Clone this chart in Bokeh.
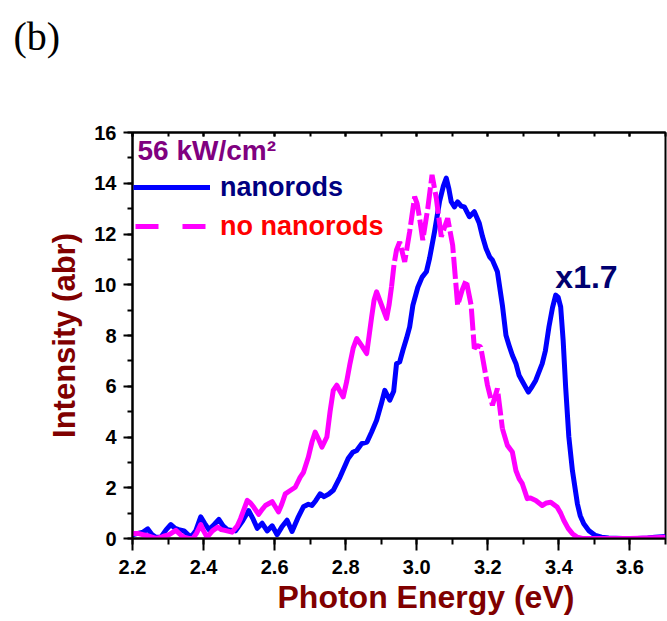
import numpy as np
from bokeh.plotting import figure
from bokeh.models import (Range1d, SingleIntervalTicker, LinearAxis, NumeralTickFormatter,
                          CustomJSTickFormatter, Label, Legend, LegendItem, Title)
from bokeh.embed import file_html
from bokeh.resources import INLINE

# ---------------- data ----------------
energy_nr = [2.200, 2.215, 2.230, 2.243, 2.255, 2.266, 2.280, 2.295, 2.308, 2.320, 2.330, 2.345,
             2.364, 2.378, 2.392, 2.403, 2.415, 2.430, 2.443, 2.455, 2.467, 2.490, 2.510, 2.527,
             2.540, 2.551, 2.565, 2.579, 2.593, 2.607, 2.620, 2.635, 2.649, 2.665, 2.681, 2.695,
             2.705, 2.716, 2.728, 2.739, 2.752, 2.765, 2.784, 2.807, 2.820, 2.831, 2.845, 2.860,
             2.873, 2.887, 2.900, 2.910, 2.924, 2.935, 2.943, 2.952, 2.961, 2.971, 2.980, 2.989,
             3.003, 3.015, 3.027, 3.036, 3.050, 3.064, 3.075, 3.083, 3.090, 3.097, 3.106, 3.115,
             3.125, 3.134, 3.148, 3.162, 3.176, 3.185, 3.195, 3.205, 3.213, 3.227, 3.241, 3.251,
             3.260, 3.269, 3.279, 3.288, 3.297, 3.314, 3.325, 3.335, 3.353, 3.362, 3.372, 3.382,
             3.391, 3.398, 3.405, 3.412, 3.419, 3.428, 3.438, 3.452, 3.460, 3.470, 3.485, 3.503,
             3.520, 3.540, 3.580, 3.620, 3.650, 3.670, 3.700]
intensity_nr = [0.15, 0.20, 0.25, 0.38, 0.15, 0.05, 0.05, 0.35, 0.55, 0.40, 0.35, 0.30,
                0.05, 0.30, 0.85, 0.60, 0.35, 0.55, 0.75, 0.50, 0.35, 0.30, 0.70, 1.10,
                0.75, 0.40, 0.60, 0.30, 0.50, 0.15, 0.45, 0.72, 0.28, 0.80, 1.25, 1.35,
                1.30, 1.50, 1.76, 1.65, 1.75, 1.90, 2.42, 3.15, 3.40, 3.47, 3.74, 3.80,
                4.20, 4.66, 5.30, 5.84, 5.45, 5.80, 6.89, 6.96, 7.42, 7.88, 8.34, 9.19,
                9.90, 10.30, 10.51, 11.04, 12.09, 13.27, 13.90, 14.20, 13.80, 13.27, 13.07, 13.27,
                13.10, 13.07, 12.68, 12.88, 12.42, 11.90, 11.43, 11.10, 10.97, 10.51, 9.19, 8.01,
                7.60, 7.22, 6.90, 6.43, 6.20, 5.77, 6.00, 6.24, 6.89, 7.40, 8.34, 9.10,
                9.59, 9.50, 9.13, 7.80, 5.97, 4.00, 2.68, 1.37, 0.90, 0.58, 0.30, 0.12,
                0.05, 0.02, 0.00, 0.00, 0.02, 0.05, 0.08]

energy_no = [2.200, 2.215, 2.230, 2.240, 2.255, 2.266, 2.280, 2.290, 2.303, 2.322, 2.335, 2.345,
             2.358, 2.370, 2.380, 2.392, 2.400, 2.410, 2.425, 2.440, 2.450, 2.460, 2.480, 2.495,
             2.504, 2.515, 2.523, 2.532, 2.541, 2.555, 2.565, 2.574, 2.584, 2.593, 2.602, 2.611,
             2.620, 2.630, 2.644, 2.658, 2.672, 2.681, 2.695, 2.705, 2.714, 2.724, 2.733, 2.747,
             2.756, 2.765, 2.775, 2.784, 2.793, 2.803, 2.812, 2.821, 2.831, 2.845, 2.859, 2.866,
             2.873, 2.880, 2.887, 2.901, 2.915, 2.922, 2.929, 2.936, 2.943, 2.952, 2.966, 2.980,
             2.994, 3.001, 3.008, 3.017, 3.031, 3.043, 3.055, 3.069, 3.087, 3.101, 3.115, 3.128,
             3.139, 3.153, 3.162, 3.170, 3.180, 3.199, 3.213, 3.227, 3.241, 3.255, 3.269, 3.279,
             3.288, 3.297, 3.311, 3.320, 3.335, 3.353, 3.365, 3.377, 3.395, 3.405, 3.414, 3.426,
             3.438, 3.452, 3.466, 3.500, 3.540, 3.600, 3.650, 3.700]
intensity_no = [0.20, 0.20, 0.15, 0.12, 0.05, 0.00, 0.05, 0.10, 0.15, 0.32, 0.15, 0.05,
                0.00, 0.00, 0.20, 0.55, 0.30, 0.05, 0.30, 0.45, 0.35, 0.32, 0.25, 0.50,
                0.78, 1.20, 1.50, 1.40, 1.24, 0.95, 1.15, 1.30, 1.38, 1.45, 1.25, 1.05,
                1.35, 1.76, 1.89, 2.02, 2.42, 2.60, 3.21, 3.80, 4.19, 3.90, 3.60, 4.00,
                5.00, 5.84, 6.04, 5.80, 5.58, 6.20, 6.89, 7.50, 7.88, 7.60, 7.29, 8.00,
                8.73, 9.40, 9.72, 9.20, 8.67, 9.20, 9.92, 10.80, 11.37, 11.69, 10.90, 12.09,
                13.47, 13.20, 12.62, 11.76, 13.01, 14.33, 13.41, 11.89, 12.62, 11.56, 9.19, 9.80,
                10.18, 9.19, 7.49, 7.60, 7.55, 6.04, 5.25, 5.91, 4.33, 3.67, 3.41, 2.68,
                2.36, 2.16, 1.57, 1.60, 1.50, 1.30, 1.40, 1.43, 1.24, 1.00, 0.71, 0.40,
                0.19, 0.05, 0.00, 0.00, 0.00, 0.00, 0.02, 0.05]

x_ticks_interval = 0.2
y_ticks_interval = 2
x_range = (2.2, 3.7)
y_range = (0, 16)
series_names = ["nanorods", "no nanorods"]
power_label = "56 kW/cm\u00b2"
scale_note = "x1.7"
panel_tag = "(b)"
x_title = "Photon Energy (eV)"
y_title = "Intensity (abr)"

# dashed portion of the "no nanorods" curve (as drawn in original)
dash_start, dash_end = 2.929, 3.241

FONT = "Liberation Sans"
LW = 5

p = figure(width=667, height=621, output_backend="svg", toolbar_location=None,
           x_range=Range1d(*x_range), y_range=Range1d(*y_range),
           min_border_left=132, min_border_top=132, min_border_right=2, min_border_bottom=83)
p.background_fill_color = "white"
p.border_fill_color = "white"
p.grid.visible = False
p.outline_line_color = "black"
p.outline_line_width = 2

# axes styling
xa = p.xaxis[0]
xa.ticker = SingleIntervalTicker(interval=x_ticks_interval, num_minor_ticks=2)
xa.formatter = NumeralTickFormatter(format="0.0")
ya = p.yaxis[0]
ya.ticker = SingleIntervalTicker(interval=y_ticks_interval, num_minor_ticks=2)
for ax in (xa, ya):
    ax.axis_line_width = 2
    ax.major_tick_line_width = 2
    ax.minor_tick_line_width = 2
    ax.major_tick_in = 0
    ax.minor_tick_in = 0
    ax.major_label_text_font = FONT
    ax.major_label_text_font_style = "bold"
    ax.major_label_text_font_size = "20px"
    ax.major_label_text_color = "black"
xa.major_tick_out = 12
xa.minor_tick_out = 6
xa.major_label_standoff = 9
ya.major_tick_out = 9
ya.minor_tick_out = 5
ya.major_label_standoff = 7
ya.axis_label = y_title
ya.axis_label_text_font = FONT
ya.axis_label_text_font_style = "bold"
ya.axis_label_text_font_size = "31px"
ya.axis_label_text_color = "#800000"
ya.axis_label_standoff = 9

top_ax = LinearAxis(ticker=SingleIntervalTicker(interval=x_ticks_interval, num_minor_ticks=2),
                    formatter=CustomJSTickFormatter(code="return ''"), axis_line_width=2,
                    major_tick_in=4, major_tick_out=0, minor_tick_in=4, minor_tick_out=0,
                    major_tick_line_width=2, minor_tick_line_width=2, major_label_standoff=0)
p.add_layout(top_ax, "above")

# x axis title, placed below the tick labels
p.add_layout(Title(text=x_title, align="left", offset=145, vertical_align="top", standoff=4,
                   text_font=FONT, text_font_style="bold", text_font_size="32px",
                   text_color="#800000"), "below")
# panel tag, in the top margin
p.add_layout(Label(x=-119, y=96, x_units="screen", y_units="screen", text=panel_tag,
                   text_font="Liberation Serif", text_font_style="normal", text_font_size="40px",
                   text_color="black", text_baseline="middle"), "above")

# curves
en_no = np.array(energy_no)
in_no = np.array(intensity_no)
en_nr = np.array(energy_nr)
in_nr = np.array(intensity_nr)

r_nr = p.line(en_nr, in_nr, line_color="#0000FF", line_width=LW, line_join="round")

m1 = en_no <= dash_start
m2 = (en_no >= dash_start) & (en_no <= dash_end)
m3 = en_no >= dash_end
p.line(en_no[m1], in_no[m1], line_color="#FF00FF", line_width=LW, line_join="round")
p.line(en_no[m2], in_no[m2], line_color="#FF00FF", line_width=LW, line_dash="22 4")
p.line(en_no[m3], in_no[m3], line_color="#FF00FF", line_width=LW, line_join="round")

# legend style proxy (draws nothing in the plot area)
r_no_leg = p.line([np.nan], [np.nan], line_color="#FF00FF", line_width=LW, line_dash="23 24")

leg1 = Legend(items=[LegendItem(label=series_names[0], renderers=[r_nr])],
              location=(1, 333), glyph_width=77, glyph_height=36, label_height=36,
              label_standoff=10, padding=0, margin=0, border_line_color=None,
              background_fill_alpha=0, label_text_font=FONT, label_text_font_style="bold",
              label_text_font_size="27px", label_text_color="#000080")
leg2 = Legend(items=[LegendItem(label=series_names[1], renderers=[r_no_leg])],
              location=(3, 294), glyph_width=72, glyph_height=36, label_height=36,
              label_standoff=13, padding=0, margin=0, border_line_color=None,
              background_fill_alpha=0, label_text_font=FONT, label_text_font_style="bold",
              label_text_font_size="27px", label_text_color="#FF0000")
p.add_layout(leg1)
p.add_layout(leg2)

# annotations inside the frame
p.add_layout(Label(x=5, y=388, x_units="screen", y_units="screen", text=power_label,
                   text_font=FONT, text_font_style="bold", text_font_size="28px",
                   text_color="#800080", text_baseline="alphabetic"))
p.add_layout(Label(x=3.39, y=10.3, text=scale_note, text_font=FONT, text_font_style="bold",
                   text_font_size="32px", text_color="#000070", text_baseline="alphabetic"))

open("out.html", "w").write(file_html(p, INLINE))
